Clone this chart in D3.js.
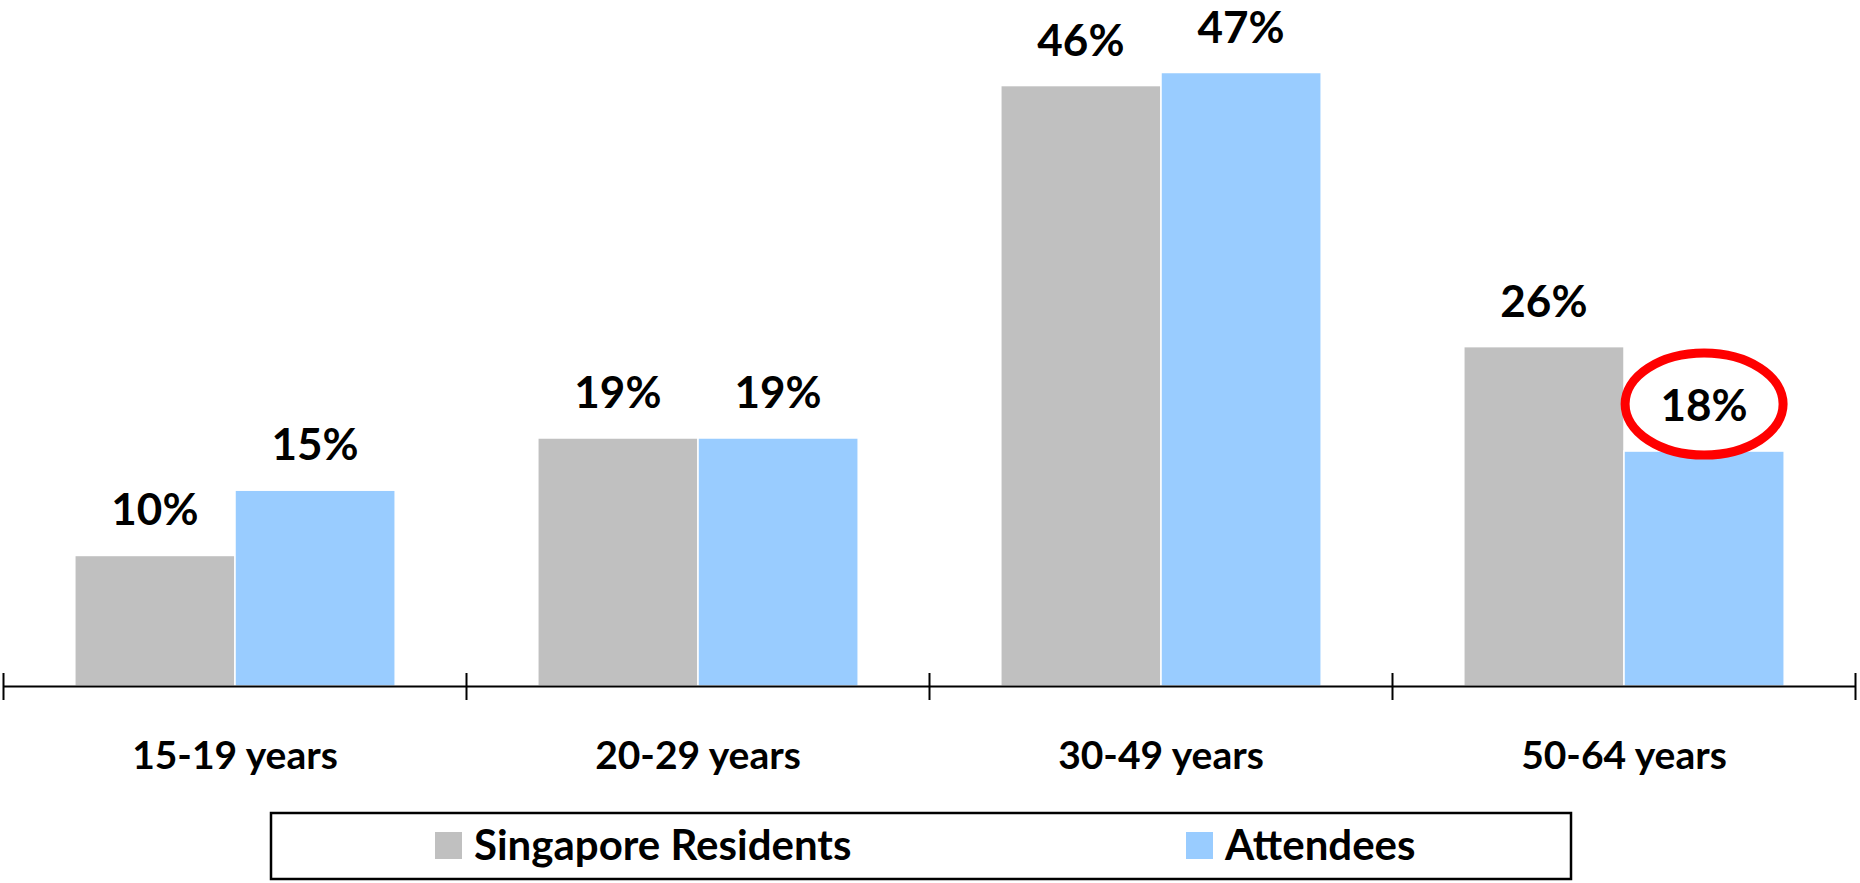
<!DOCTYPE html>
<html>
<head>
<meta charset="utf-8">
<script src="https://cdn.jsdelivr.net/npm/d3@7"></script>
<style>
  html, body { margin: 0; padding: 0; background: #fff; }
  text { font-family: Lato, "Noto Sans", sans-serif; font-weight: bold; fill: #000; }
</style>
</head>
<body>
<div id="chart"></div>
<script>
// age groups on the x axis
let categories = ['15-19 years', '20-29 years', '30-49 years', '50-64 years'];
let seriesNames = ['Singapore Residents', 'Attendees'];
let residents = [10, 19, 46, 26];
let attendees = [15, 19, 47, 18];
let seriesColors = ['#C0C0C0', '#99CCFF'];
// the value that gets the red ring
let highlight = { series: 'Attendees', category: '50-64 years' };

let chart_width = 1860;
let chart_height = 883;
let base_y = 686;

let data = [];
categories.forEach((c, i) => {
  data.push({ category: c, series: seriesNames[0], value: residents[i] });
  data.push({ category: c, series: seriesNames[1], value: attendees[i] });
});

let svg = d3.select('#chart')
            .append('svg')
            .attr('width', chart_width)
            .attr('height', chart_height);

let x_scale = d3.scaleBand()
            .domain(categories)
            .range([3.5, 1855.5])
            .paddingInner(0)
            .paddingOuter(0);

let bw = x_scale.bandwidth();
let x_inner = d3.scaleBand()
            .domain(seriesNames)
            .range([bw * 0.154, bw * 0.846]);

let y_scale = d3.scaleLinear()
            .domain([0, 47])
            .range([base_y, 72.5]);

let color = d3.scaleOrdinal().domain(seriesNames).range(seriesColors);

//bars
svg.selectAll('rect.bar')
  .data(data)
  .enter()
  .append('rect')
  .attr('class', 'bar')
  .attr('x', d => x_scale(d.category) + x_inner(d.series))
  .attr('y', d => y_scale(d.value))
  .attr('width', x_inner.bandwidth())
  .attr('height', d => base_y - y_scale(d.value))
  .attr('fill', d => color(d.series))
  .attr('stroke', '#fff')
  .attr('stroke-width', 1.5);

//value labels
svg.selectAll('text.val')
  .data(data)
  .enter()
  .append('text')
  .attr('class', 'val')
  .attr('x', d => x_scale(d.category) + x_inner(d.series) + x_inner.bandwidth() / 2)
  .attr('y', d => y_scale(d.value) - 30)
  .attr('text-anchor', 'middle')
  .style('font-size', '44px')
  .text(d => d.value + '%');

//red ring
let hl = data.find(d => d.series === highlight.series && d.category === highlight.category);
svg.append('ellipse')
  .attr('cx', x_scale(hl.category) + x_inner(hl.series) + x_inner.bandwidth() / 2)
  .attr('cy', y_scale(hl.value) - 47)
  .attr('rx', 79)
  .attr('ry', 51)
  .attr('fill', 'none')
  .attr('stroke', '#FF0000')
  .attr('stroke-width', 9);

//axis
let x_axis = d3.axisBottom(x_scale).tickSize(0).tickFormat('');
let axis_g = svg.append('g')
  .attr('class', 'x-axis')
  .attr('transform', 'translate(0,' + base_y + ')')
  .call(x_axis);
axis_g.select('.domain').attr('stroke', '#000').attr('stroke-width', 2);

let bounds = categories.map(c => x_scale(c)).concat([x_scale.range()[1]]);
axis_g.selectAll('line.sep')
  .data(bounds)
  .enter()
  .append('line')
  .attr('class', 'sep')
  .attr('x1', d => d).attr('x2', d => d)
  .attr('y1', -13).attr('y2', 14)
  .attr('stroke', '#000')
  .attr('stroke-width', 2);

svg.selectAll('text.cat')
  .data(categories)
  .enter()
  .append('text')
  .attr('class', 'cat')
  .attr('x', d => x_scale(d) + bw / 2)
  .attr('y', 769)
  .attr('text-anchor', 'middle')
  .style('font-size', '39px')
  .text(d => d);

//legend
let legend = svg.append('g').attr('class', 'legend');
legend.append('rect')
  .attr('x', 271).attr('y', 813)
  .attr('width', 1300).attr('height', 66)
  .attr('fill', '#fff')
  .attr('stroke', '#000')
  .attr('stroke-width', 2.5);

let legend_x = d3.scaleOrdinal().domain(seriesNames).range([435, 1186]);
let items = legend.selectAll('g.item')
  .data(seriesNames)
  .enter()
  .append('g')
  .attr('class', 'item')
  .attr('transform', d => 'translate(' + legend_x(d) + ',846)');
items.append('rect')
  .attr('x', 0).attr('y', -14)
  .attr('width', 27).attr('height', 27)
  .attr('fill', d => color(d));
items.append('text')
  .attr('x', 39)
  .attr('y', 14)
  .style('font-size', '42px')
  .text(d => d);
</script>
</body>
</html>
